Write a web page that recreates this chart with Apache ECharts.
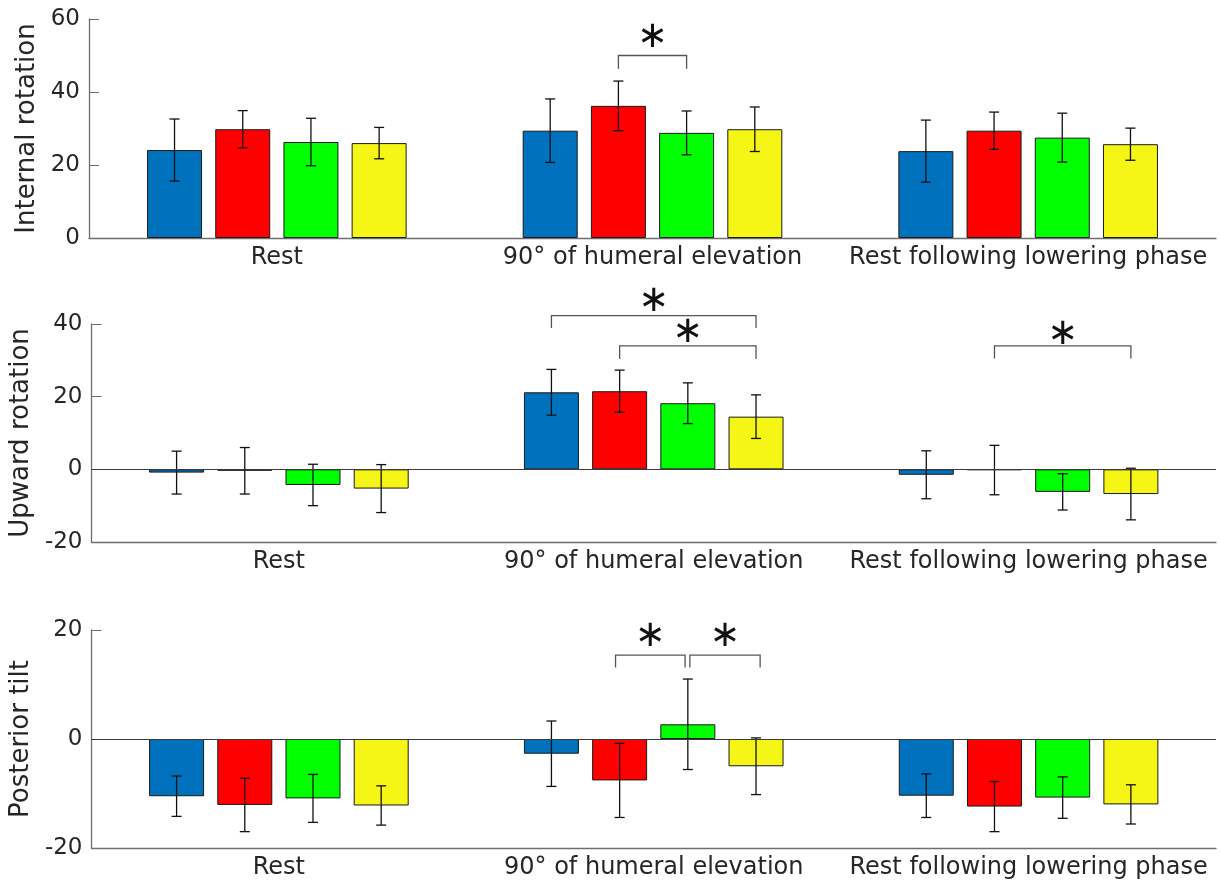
<!DOCTYPE html>
<html>
<head>
<meta charset="utf-8">
<script src="https://cdn.jsdelivr.net/npm/echarts@6/dist/echarts.min.js"></script>
<style>
    html, body { margin: 0; padding: 0; background: #fff; }
    #chart { width: 1220px; height: 894px; }
</style>
</head>
<body>
<div id="chart"></div>
<script>
    // categories and groups
    var categories = ['Rest', '90° of humeral elevation', 'Rest following lowering phase'];
    var groupColors = ['#0072bd', '#ff0000', '#00ff00', '#f5f516'];
    var panelNames = ['Internal rotation', 'Upward rotation', 'Posterior tilt'];
    var panelMin = [0, -20, -20];
    var panelMax = [60, 40, 20];

    // means and SD, one row per group (blue, red, green, yellow), one column per category
    var internalMean = [[24.1, 29.4, 23.8], [29.8, 36.2, 29.4], [26.3, 28.8, 27.5], [26.0, 29.8, 25.7]];
    var internalErr  = [[8.5, 8.7, 8.5], [5.1, 6.8, 5.1], [6.5, 6.0, 6.7], [4.3, 6.1, 4.4]];
    var upwardMean   = [[-0.9, 21.2, -1.5], [-0.4, 21.5, -0.2], [-4.3, 18.2, -6.2], [-5.3, 14.5, -6.8]];
    var upwardErr    = [[5.9, 6.3, 6.6], [6.4, 5.8, 6.8], [5.7, 5.6, 5.0], [6.6, 6.0, 7.1]];
    var tiltMean     = [[-10.5, -2.7, -10.4], [-12.1, -7.6, -12.4], [-10.9, 2.7, -10.75], [-12.2, -5.0, -12.0]];
    var tiltErr      = [[3.7, 6.0, 4.0], [4.9, 6.8, 4.6], [4.4, 8.3, 3.8], [3.6, 5.2, 3.6]];

    // significance brackets: [category, fromGroup, toGroup, top, end, star]
    var internalSig = [[1, 1, 2, 50, 46.4, 55]];
    var upwardSig   = [[1, 0, 3, 42.3, 38.9, 46.1], [1, 1, 3, 34.0, 30.4, 37.7], [2, 1, 3, 34.0, 30.5, 37.2]];
    var tiltSig     = [[1, 0.94, 1.96, 15.4, 13.1, 18.9], [1, 2.03, 3.06, 15.4, 13.1, 18.9]];

    var means = [internalMean, upwardMean, tiltMean];
    var errs = [internalErr, upwardErr, tiltErr];
    var sigs = [internalSig, upwardSig, tiltSig];

    var barWidth = 55;
    var barGap = 0.24;
    var barStep = barWidth * (1 + barGap);
    var gridTop = [19, 324, 630];
    var gridHeight = [219, 218, 218];
    var textColor = '#262626';
    var axisColor = '#6e6e6e';

    //误差棒
    function renderErr(params, api) {
        var cat = api.value(0), slot = api.value(1), m = api.value(2), e = api.value(3);
        var top = api.coord([cat, m + e]);
        var bot = api.coord([cat, m - e]);
        var x = top[0] + (slot - 1.5) * barStep;
        var cap = 5;
        var style = { stroke: '#111', lineWidth: 1.3 };
        return {
            type: 'group',
            children: [
                { type: 'line', shape: { x1: x, y1: top[1], x2: x, y2: bot[1] }, style: style },
                { type: 'line', shape: { x1: x - cap, y1: top[1], x2: x + cap, y2: top[1] }, style: style },
                { type: 'line', shape: { x1: x - cap, y1: bot[1], x2: x + cap, y2: bot[1] }, style: style }
            ]
        };
    }

    //显著性标记
    function renderBracket(params, api) {
        var cat = api.value(0);
        var a = api.coord([cat, api.value(3)]);
        var b = api.coord([cat, api.value(4)]);
        var s = api.coord([cat, api.value(5)]);
        var x1 = a[0] + (api.value(1) - 1.5) * barStep;
        var x2 = a[0] + (api.value(2) - 1.5) * barStep;
        return {
            type: 'group',
            children: [
                {
                    type: 'polyline',
                    shape: { points: [[x1, b[1]], [x1, a[1]], [x2, a[1]], [x2, b[1]]] },
                    style: { stroke: '#555', lineWidth: 1.3, fill: null }
                },
                {
                    type: 'text', x: (x1 + x2) / 2, y: s[1],
                    style: { text: '∗', fontSize: 37, fontFamily: 'DejaVu Sans', fill: '#111', align: 'center', verticalAlign: 'middle' }
                }
            ]
        };
    }

    var grids = [], xAxes = [], yAxes = [], series = [];
    for (var p = 0; p < 3; p++) {
        grids.push({ left: 89, right: 4, top: gridTop[p], height: gridHeight[p] });
        xAxes.push({
            type: 'category', gridIndex: p, data: categories,
            axisLine: { onZero: false, lineStyle: { color: axisColor, width: 1.3 } },
            axisTick: { alignWithLabel: true, inside: true, length: 10, lineStyle: { color: axisColor } },
            axisLabel: { color: textColor, fontSize: 24, fontFamily: 'DejaVu Sans', margin: 8, interval: 0 }
        });
        yAxes.push({
            type: 'value', gridIndex: p, min: panelMin[p], max: panelMax[p], interval: 20,
            name: panelNames[p], nameLocation: 'middle', nameGap: 40,
            nameTextStyle: { color: textColor, fontSize: 26, fontFamily: 'DejaVu Sans' },
            axisLine: { show: true, lineStyle: { color: axisColor, width: 1.3 } },
            axisTick: { show: true, inside: true, length: 10, lineStyle: { color: axisColor } },
            axisLabel: { color: textColor, fontSize: 23, fontFamily: 'DejaVu Sans', margin: 9 },
            splitLine: { show: false }
        });
        var errData = [];
        for (var g = 0; g < 4; g++) {
            var bar = {
                type: 'bar', xAxisIndex: p, yAxisIndex: p,
                data: means[p][g],
                barWidth: barWidth, barGap: (barGap * 100) + '%',
                itemStyle: { color: groupColors[g], borderColor: '#1a1a1a', borderWidth: 1 }
            };
            if (g == 0 && panelMin[p] < 0) {
                bar.markLine = {
                    silent: true, symbol: 'none', label: { show: false },
                    lineStyle: { color: '#3a3a3a', width: 1.2, type: 'solid' },
                    data: [{ yAxis: 0 }]
                };
            }
            series.push(bar);
            for (var c = 0; c < 3; c++) {
                errData.push([c, g, means[p][g][c], errs[p][g][c]]);
            }
        }
        series.push({
            type: 'custom', xAxisIndex: p, yAxisIndex: p, z: 3,
            renderItem: renderErr, encode: { x: 0, y: 2 }, data: errData
        });
        series.push({
            type: 'custom', xAxisIndex: p, yAxisIndex: p, z: 3,
            renderItem: renderBracket, encode: { x: 0, y: 3 }, data: sigs[p]
        });
    }

    var mChart = echarts.init(document.getElementById('chart'));
    mChart.setOption({
        animation: false,
        backgroundColor: '#fff',
        grid: grids,
        xAxis: xAxes,
        yAxis: yAxes,
        series: series
    });
</script>
</body>
</html>
